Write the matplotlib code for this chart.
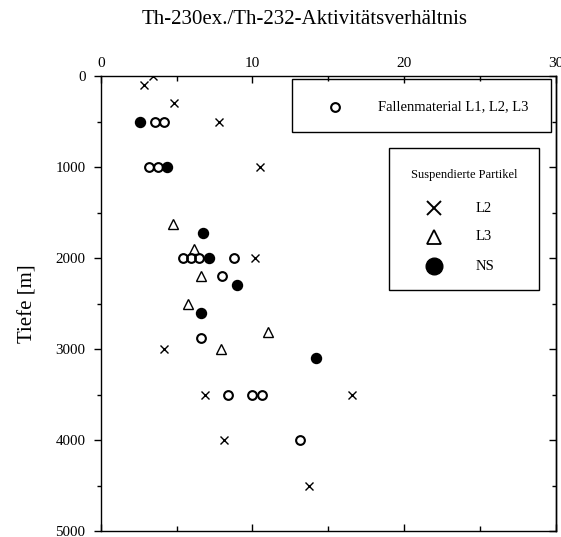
import matplotlib
matplotlib.use("Agg")
import matplotlib.pyplot as plt
from matplotlib.patches import Rectangle
from matplotlib.ticker import MultipleLocator

plt.rcParams['font.family'] = ['Liberation Serif', 'DejaVu Serif']

# Trap material (Fallenmaterial L1, L2, L3)
fall_ratio = [3.6, 4.2, 3.2, 3.8, 5.45, 5.95, 6.45, 8.8, 8.0, 6.6, 8.4, 10.0, 10.65, 13.15]
fall_depth = [500, 500, 1000, 1000, 2000, 2000, 2000, 2000, 2200, 2880, 3500, 3500, 3500, 4000]

# Suspended particles, station L2
l2_ratio = [3.45, 2.85, 4.8, 7.8, 10.5, 10.15, 4.15, 6.85, 16.55, 8.1, 13.75]
l2_depth = [0, 100, 300, 500, 1000, 2000, 3000, 3500, 3500, 4000, 4500]

# Suspended particles, station L3
l3_ratio = [4.75, 6.15, 6.6, 5.75, 11.05, 7.95]
l3_depth = [1630, 1900, 2200, 2500, 2810, 3000]

# Suspended particles, station NS
ns_ratio = [2.6, 4.35, 6.75, 7.15, 8.95, 6.6, 14.2]
ns_depth = [500, 1000, 1720, 2000, 2300, 2600, 3100]

x_ticks = [0, 10, 20, 30]
y_ticks = [0, 1000, 2000, 3000, 4000, 5000]

W, H = 561, 537
fig = plt.figure(figsize=(W / 100, H / 100), dpi=100)
L, R, T, B = 100.7, 556.0, 76.0, 531.0
ax = fig.add_axes([L / W, 1 - B / H, (R - L) / W, (B - T) / H])


def axfrac(px, py):
    return (px - L) / (R - L), (B - py) / (B - T)


ax.set_xlim(0, 30)
ax.set_ylim(5000, 0)

for s in ax.spines.values():
    s.set_linewidth(1.0)
    s.set_color('black')

ax.xaxis.tick_top()
ax.set_xticks(x_ticks)
ax.set_xticklabels([str(v) for v in x_ticks])
ax.xaxis.set_minor_locator(MultipleLocator(5))
ax.tick_params(axis='x', which='both', direction='in', top=True, bottom=True,
               labeltop=True, labelbottom=False, width=1.0, labelsize=11, pad=4)
ax.tick_params(axis='x', which='major', length=5)
ax.tick_params(axis='x', which='minor', length=3.5)

ax.set_yticks(y_ticks)
ax.set_yticklabels([str(v) for v in y_ticks])
ax.yaxis.set_minor_locator(MultipleLocator(500))
ax.tick_params(axis='y', which='both', direction='out', left=True, right=False,
               width=1.0, labelsize=10.8, pad=6)
ax.tick_params(axis='y', which='major', length=5)
ax.tick_params(axis='y', which='minor', length=3)

right = ax.secondary_yaxis('right')
right.set_yticks(y_ticks)
right.yaxis.set_minor_locator(MultipleLocator(500))
right.tick_params(axis='y', which='both', direction='in', labelright=False, width=1.0)
right.tick_params(axis='y', which='major', length=5)
right.tick_params(axis='y', which='minor', length=3)
right.spines['right'].set_linewidth(1.0)

ax.set_ylabel('Tiefe [m]', fontsize=15, labelpad=13)
fig.text(305 / W, 1 - 19 / H, 'Th-230ex./Th-232-Aktivitätsverhältnis',
         ha='center', va='center', fontsize=15)

ax.plot(fall_ratio, fall_depth, 'o', ms=6.3, mfc='none', mec='black', mew=1.5,
        linestyle='none', zorder=3)
ax.plot(l2_ratio, l2_depth, 'x', ms=5.8, mec='black', mew=1.0, linestyle='none', zorder=3)
ax.plot(l3_ratio, l3_depth, '^', ms=7.0, mfc='none', mec='black', mew=1.0,
        linestyle='none', zorder=3)
ax.plot(ns_ratio, ns_depth, 'o', ms=7.2, mfc='black', mec='black', linestyle='none', zorder=3)

# Legend box for trap material
x0, y0 = axfrac(292.3, 131.7)
x1, y1 = axfrac(550.7, 79.3)
ax.add_patch(Rectangle((x0, y0), x1 - x0, y1 - y0, transform=ax.transAxes,
                       fill=False, ec='black', lw=1.0, zorder=4, clip_on=False))
mx, my = axfrac(335, 106.7)
ax.plot([mx], [my], 'o', ms=6.3, mfc='none', mec='black', mew=1.5,
        transform=ax.transAxes, clip_on=False, zorder=5)
tx, ty = axfrac(377.7, 106.7)
ax.text(tx, ty, 'Fallenmaterial L1, L2, L3', transform=ax.transAxes,
        ha='left', va='center', fontsize=10.5, zorder=5)

# Legend box for suspended particles
x0, y0 = axfrac(389.3, 290)
x1, y1 = axfrac(539.3, 148.3)
ax.add_patch(Rectangle((x0, y0), x1 - x0, y1 - y0, transform=ax.transAxes,
                       fill=False, ec='black', lw=1.0, zorder=4, clip_on=False))
tx, ty = axfrac(464.3, 175)
ax.text(tx, ty, 'Suspendierte Partikel', transform=ax.transAxes,
        ha='center', va='center', fontsize=9, zorder=5)

entries = [('x', 'L2', 208.3, dict(ms=9.5, mec='black', mew=1.4)),
           ('^', 'L3', 236.7, dict(ms=10, mfc='none', mec='black', mew=1.3)),
           ('o', 'NS', 266.0, dict(ms=12, mfc='black', mec='black'))]
for mk, lab, py, style in entries:
    mx, my = axfrac(434.3, py)
    ax.plot([mx], [my], mk, transform=ax.transAxes, clip_on=False, zorder=5, **style)
    tx, ty = axfrac(475.5, py)
    ax.text(tx, ty, lab, transform=ax.transAxes, ha='left', va='center',
            fontsize=10.5, zorder=5)

fig.savefig('out.png', dpi=100)
